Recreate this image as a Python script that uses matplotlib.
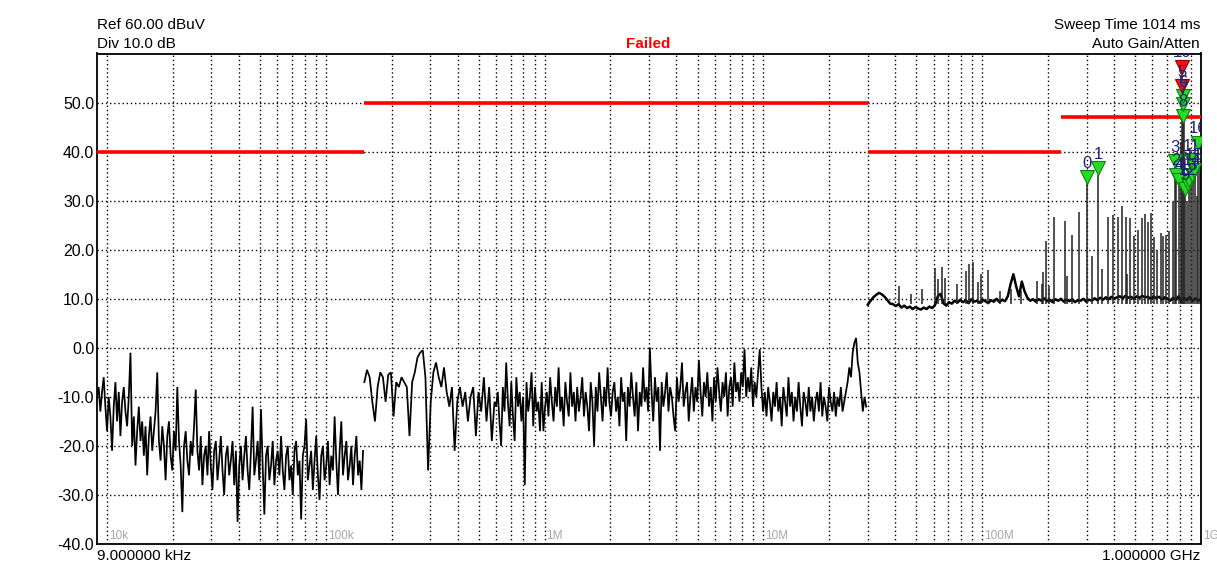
import numpy as np
import matplotlib
matplotlib.use('Agg')
import matplotlib.pyplot as plt

plt.rcParams['font.family'] = ['Liberation Sans', 'DejaVu Sans']

# ---------------- data ----------------
seg1_start_hz, seg1_stop_hz = 9e3, 148e3
seg1_levels = [
    -10, -8, -13, -9, -6, -12, -17, -10, -14, -21,
    -12, -7, -15, -9, -18, -11, -8, -13, -16, -10,
    -1, -20, -14, -24, -17, -12, -19, -15, -22, -16,
    -26, -18, -14, -21, -17, -13, -5, -19, -23, -16,
    -20, -27, -18, -15, -22, -25, -17, -21, -8, -19,
    -24, -33.5, -20, -17, -23, -26, -19, -22, -16, -8.5,
    -21, -25, -18, -28, -22, -20, -26, -17, -24, -29,
    -21, -19, -27, -23, -18, -25, -30, -22, -20, -26,
    -23, -19, -28, -21, -35.5, -24, -20, -27, -22, -18,
    -25, -29, -21, -12, -26, -23, -19, -27, -12.5, -24,
    -34, -22, -20, -27, -24, -19, -28, -23, -21, -26,
    -18, -25, -29, -22, -20, -27, -24, -30, -21, -19,
    -26, -23, -35, -22, -20, -14.5, -27, -24, -21, -29,
    -23, -18, -26, -31, -22, -20, -27, -24, -19, -28,
    -22, -25, -14, -23, -30, -21, -15, -26, -22, -19,
    -27, -24, -20, -28, -22, -18, -26, -23, -29, -21,
]

seg2a_start_hz, seg2a_stop_hz = 150e3, 590e3
seg2a_levels = [
    -7, -4.5, -6, -11, -15, -8, -5, -6, -11, -5.5,
    -5, -14, -7, -8, -6, -7, -8, -18, -7, -5,
    -2, -1, -0.5, -6, -25, -11, -5, -3, -6, -8,
    -4, -9, -12, -8, -21, -11, -8, -12, -9, -15,
    -10, -8, -18, -9, -13, -6, -15, -8, -19, -11,
]

seg2b_start_hz, seg2b_stop_hz = 600e3, 29.5e6
seg2b_levels = [
    -12, -9, -15, -20, -8, -13, -3, -11, -16, -7,
    -14, -19, -6, -12, -9, -15, -10, -28, -7, -13,
    -10, -5, -16, -8, -13, -11, -17, -7, -17, -12,
    -9, -14, -6, -11, -15, -8, -12, -4, -13, -10,
    -16, -7, -11, -14, -5, -12, -9, -15, -8, -13,
    -10, -6, -14, -9, -12, -17, -7, -11, -20, -8,
    -13, -5, -10, -15, -8, -12, -4, -11, -14, -9,
    -7, -13, -10, -16, -6, -11, -9, -19, -8, -12,
    -5, -10, -14, -7, -17, -9, -12, -4, -11, -8,
    -13, 0, -9, -15, -6, -11, -8, -21, -7, -12,
    -9, -5, -13, -8, -10, -14, -17, -6, -11, -8,
    -3, -12, -9, -7, -15, -10, -6, -13, -8, -11,
    -2.5, -9, -14, -7, -10, -5, -12, -8, -15, -6,
    -11, -4, -9, -13, -7, -10, -5, -14, -8, -6,
    -12, -3, -9, -7, -11, -5, -8, -0.3, -10, -6,
    -9, -4, -12, -7, -10, -5, -0.3, -8, -13, -9,
    -14, -8, -11, -15, -9, -12, -7, -13, -10, -16,
    -8, -11, -14, -6, -12, -9, -15, -10, -13, -7,
    -12, -16, -9, -11, -14, -8, -13, -10, -15, -11,
    -9, -13, -7, -14, -10, -12, -15, -8, -11, -13,
    -9, -14, -10, -12, -8, -13, -11, -9, -7, -4,
    -6, -1, 1, 2, -3, -5, -9, -13, -10, -12,
]

seg3_start_hz, seg3_stop_hz = 30e6, 1e9
seg3_levels = [
    8.8, 9.6, 10.3, 10.8, 11.2, 10.9, 10.4, 9.7, 9.0, 8.9,
    8.5, 8.9, 8.2, 8.6, 8.1, 8.4, 7.9, 8.3, 8.0, 7.8,
    8.2, 7.9, 8.4, 8.1, 8.7, 10.5, 11.0, 9.1, 8.6, 9.3,
    9.0, 9.6, 9.2, 9.8, 9.3, 9.7, 9.1, 9.9, 9.4, 9.6,
    9.2, 9.8, 9.5, 9.1, 9.7, 9.4, 10.0, 9.3, 9.8, 9.5,
    10.5, 13.0, 15.0, 12.5, 10.5, 13.5, 11.5, 10.2, 9.6, 9.9,
    9.4, 9.9, 9.6, 10.1, 9.5, 9.8, 9.3, 9.9, 9.6, 10.0,
    9.4, 9.8, 9.5, 9.9, 9.3, 9.7, 9.6, 10.0, 9.4, 9.8,
    9.6, 10.1, 9.7, 10.2, 9.8, 10.3, 9.9, 10.4, 10.0, 10.3,
    10.5, 10.1, 10.6, 10.2, 10.4, 10.0, 10.5, 10.2, 10.6, 10.3,
    10.4, 10.0, 10.5, 10.1, 10.4, 9.9, 10.3, 10.0, 9.6, 10.2,
    9.8, 10.5, 9.4, 10.2, 9.7, 10.4, 9.5, 10.1, 9.6, 10.0,
]

spike_freq_mhz = [41.8, 47.4, 53.2, 61, 63, 65.7, 67.8, 76.9, 84.6, 87.2,
                  91, 95.9, 98.9, 106, 120, 135, 150, 178, 188, 190,
                  196, 202, 213, 239, 244, 258, 277, 300, 318, 338,
                  353, 376, 396, 418, 436, 454, 459, 474, 494, 515,
                  537, 555, 573, 591, 610, 630, 657, 670, 692, 714,
                  745, 760, 769, 794, 810, 820, 827, 833,
                  845, 862, 880, 900, 920, 940, 958, 968, 989]
spike_level = [12.6, 11, 12, 16.2, 14, 16.4, 14.2, 13, 15.6, 17,
               17.4, 13.5, 15, 15.8, 11.5, 12, 11.5, 13.6, 13, 15.4,
               21.8, 12.6, 26.7, 25.8, 14.6, 23, 27.7, 33.5, 18.7, 35.3,
               16, 26.7, 27, 26.7, 29, 26.7, 15, 26.5, 22.8, 24,
               26.5, 27.3, 25.6, 27.5, 22.6, 20, 23.4, 22.8, 23, 23.8,
               29.7, 36.8, 34, 33, 42, 56, 52, 46,
               31, 30, 33, 37, 34, 35, 31, 40.5, 37]

limit_start_hz = [9e3, 150e3, 30e6, 230e6]
limit_stop_hz = [150e3, 30e6, 230e6, 1e9]
limit_level = [40, 50, 40, 47]

marker_label = ['0', '1', '2', '3', '4', '9', '12', '13', '14', '15',
                '11', '16', '8', '7', '6', '5', '10']
marker_freq_mhz = [300, 338, 769, 760, 794, 845, 870, 880, 910, 929,
                   900, 968, 827, 827, 827, 820, 822]
marker_level = [33.5, 35.3, 34, 36.8, 33, 31, 32, 33, 34, 35,
                37, 40.5, 46, 48.5, 50, 52, 56]
marker_failed = [False, False, False, False, False, False, False, False,
                 False, False, False, False, False, False, False, True, True]

y_ticks = [-40, -30, -20, -10, 0, 10, 20, 30, 40, 50]
decade_hz = [1e4, 1e5, 1e6, 1e7, 1e8, 1e9]
decade_labels = ['10k', '100k', '1M', '10M', '100M', '1G']

# ---------------- figure ----------------
W, H = 1217, 577
fig = plt.figure(figsize=(W / 100, H / 100), dpi=100)
ax = fig.add_axes([97 / W, 33 / H, 1104 / W, 490.5 / H])
ax.set_xscale('log')
ax.set_xlim(9e3, 1e9)
ax.set_ylim(-40, 60)

# grid
grid_x = [m * 10.0 ** e for e in range(4, 10) for m in range(1, 10) if 9e3 < m * 10.0 ** e < 1e9]
ax.set_xticks(grid_x)
ax.set_xticks([], minor=True)
ax.set_xticklabels([])
ax.set_yticks(y_ticks)
ax.set_yticklabels([f'{v:.1f}' for v in y_ticks], fontsize=11.5)
ax.tick_params(axis='both', length=0, pad=2)
ax.grid(True, which='major', color='black', linestyle=(0, (1, 2)), linewidth=1)
for s in ax.spines.values():
    s.set_linewidth(1.3)
    s.set_color('black')

# decade labels
for f, lab in zip(decade_hz, decade_labels):
    ax.text(f * 1.02, -39.6, lab, fontsize=8.5, color='#a8a8a8', va='bottom', ha='left',
            clip_on=False)

# traces
trace_kw = dict(color='black', linewidth=1.25, solid_joinstyle='miter')
f1 = np.geomspace(seg1_start_hz, seg1_stop_hz, len(seg1_levels))
f2a = np.geomspace(seg2a_start_hz, seg2a_stop_hz, len(seg2a_levels))
f2b = np.geomspace(seg2b_start_hz, seg2b_stop_hz, len(seg2b_levels))
ax.plot(f1, seg1_levels, **trace_kw)
ax.plot(np.concatenate([f2a, f2b]), seg2a_levels + seg2b_levels, **trace_kw)
f3 = np.geomspace(seg3_start_hz, seg3_stop_hz, len(seg3_levels))
ax.plot(f3, seg3_levels, color='black', linewidth=1.8)
ax.vlines(np.array(spike_freq_mhz) * 1e6, 9.0, spike_level, color='#222222', linewidth=1.1)

# limit lines
ax.hlines(limit_level, limit_start_hz, limit_stop_hz, color='#ff0000', linewidth=2.6, zorder=4)

# markers
for lab, fm, lv, bad in zip(marker_label, marker_freq_mhz, marker_level, marker_failed):
    fc = '#ff1010' if bad else '#22dd22'
    ec = '#900000' if bad else '#108010'
    ax.plot([fm * 1e6], [lv + 1.3], marker='v', markersize=10, markerfacecolor=fc,
            markeredgecolor=ec, markeredgewidth=0.8, linestyle='none', zorder=6)
    ax.text(fm * 1e6, lv + 2.6, lab, ha='center', va='bottom', fontsize=12,
            color='#20207a', zorder=7, clip_on=True)

# header / footer text
fig.text(97 / W, 1 - 25 / H, 'Ref 60.00 dBuV', fontsize=11, va='center', ha='left')
fig.text(97 / W, 1 - 44 / H, 'Div 10.0 dB', fontsize=11, va='center', ha='left')
fig.text(648 / W, 1 - 44 / H, 'Failed', fontsize=11, va='center', ha='center',
         color='#ff0000', fontweight='bold')
fig.text(1200 / W, 1 - 25 / H, 'Sweep Time 1014 ms', fontsize=11, va='center', ha='right')
fig.text(1200 / W, 1 - 44 / H, 'Auto Gain/Atten', fontsize=11, va='center', ha='right')
fig.text(97 / W, 1 - 556 / H, '9.000000 kHz', fontsize=11, va='center', ha='left')
fig.text(1200 / W, 1 - 556 / H, '1.000000 GHz', fontsize=11, va='center', ha='right')

fig.savefig('out.png', dpi=100)
